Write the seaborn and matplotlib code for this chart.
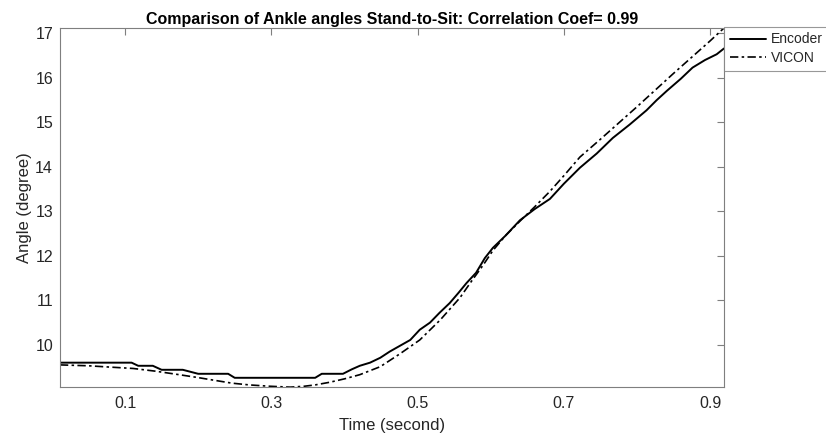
import matplotlib
matplotlib.use("Agg")
import matplotlib.pyplot as plt
import seaborn as sns
import pandas as pd

# ---- data ----
enc_t = [0.011, 0.109, 0.118, 0.138, 0.150, 0.179, 0.200, 0.241, 0.250, 0.360,
         0.369, 0.398, 0.410, 0.421, 0.435, 0.449, 0.462, 0.476, 0.490, 0.503,
         0.517, 0.530, 0.544, 0.556, 0.567, 0.580, 0.592, 0.603, 0.620, 0.640,
         0.660, 0.681, 0.700, 0.722, 0.745, 0.767, 0.790, 0.813, 0.827, 0.841,
         0.860, 0.876, 0.893, 0.909, 0.919]
enc_v = [9.60, 9.60, 9.53, 9.53, 9.44, 9.44, 9.35, 9.35, 9.26, 9.26,
         9.35, 9.35, 9.45, 9.53, 9.60, 9.71, 9.85, 9.98, 10.11, 10.34,
         10.50, 10.72, 10.94, 11.17, 11.39, 11.62, 11.95, 12.18, 12.45, 12.80,
         13.05, 13.28, 13.62, 13.98, 14.30, 14.65, 14.95, 15.27, 15.50, 15.71,
         15.98, 16.23, 16.40, 16.53, 16.66]

vic_t = [0.011, 0.050, 0.080, 0.111, 0.141, 0.170, 0.198, 0.220, 0.246, 0.270,
         0.298, 0.326, 0.345, 0.360, 0.380, 0.401, 0.421, 0.449, 0.476, 0.503,
         0.531, 0.558, 0.572, 0.590, 0.603, 0.620, 0.640, 0.660, 0.681, 0.700,
         0.722, 0.750, 0.800, 0.850, 0.900, 0.919]
vic_v = [9.55, 9.53, 9.50, 9.47, 9.41, 9.34, 9.27, 9.21, 9.14, 9.10,
         9.07, 9.05, 9.07, 9.10, 9.16, 9.24, 9.33, 9.51, 9.80, 10.11,
         10.56, 11.06, 11.39, 11.80, 12.12, 12.45, 12.78, 13.10, 13.45, 13.80,
         14.22, 14.62, 15.35, 16.10, 16.83, 17.12]

x_ticks = [0.1, 0.3, 0.5, 0.7, 0.9]
y_ticks = [10, 11, 12, 13, 14, 15, 16, 17]

title = "Comparison of Ankle angles Stand-to-Sit: Correlation Coef= 0.99"
xlabel = "Time (second)"
ylabel = "Angle (degree)"

# ---- style ----
sns.set_style("white")
plt.rcParams["font.family"] = ["Liberation Sans", "DejaVu Sans"]

axis_col = "#7f7f7f"
text_col = "#262626"

fig = plt.figure(figsize=(8.26, 4.34), dpi=100)
ax = fig.add_axes([60 / 826, 1 - 386.7 / 434, (724 - 60) / 826, (386.7 - 28) / 434])

df_enc = pd.DataFrame({"t": enc_t, "v": enc_v})
df_vic = pd.DataFrame({"t": vic_t, "v": vic_v})
sns.lineplot(data=df_enc, x="t", y="v", ax=ax, color="black", lw=1.4,
             linestyle="-", sort=False, label="Encoder")
sns.lineplot(data=df_vic, x="t", y="v", ax=ax, color="black", lw=1.2,
             linestyle=(0, (5, 2, 1.5, 2)), sort=False, label="VICON")

ax.set_xlim(0.0111, 0.919)
ax.set_ylim(9.06, 17.12)
ax.set_xticks(x_ticks)
ax.set_xticklabels([f"{v:g}" for v in x_ticks])
ax.set_yticks(y_ticks)

ax.tick_params(direction="in", top=True, right=True, length=5, width=0.8,
               color=axis_col, labelcolor=text_col, labelsize=11.5)
ax.tick_params(axis="y", pad=5)
ax.tick_params(axis="x", pad=7)
for s in ax.spines.values():
    s.set_color(axis_col)
    s.set_linewidth(0.8)

ax.set_title(title, fontsize=11.5, fontweight="bold", color="black", pad=3)
ax.set_xlabel(xlabel, fontsize=12, color=text_col, labelpad=5)
ax.set_ylabel(ylabel, fontsize=12, color=text_col, labelpad=2)

leg = ax.legend(loc="upper left", bbox_to_anchor=(1.0, 1.003), frameon=True,
                fancybox=False, fontsize=10, handlelength=2.6,
                borderaxespad=0, borderpad=0.4, labelspacing=0.35,
                handletextpad=0.35)
leg.get_frame().set_edgecolor(axis_col)
leg.get_frame().set_linewidth(0.8)
for txt in leg.get_texts():
    txt.set_color(text_col)

fig.savefig("out.png", dpi=100)
